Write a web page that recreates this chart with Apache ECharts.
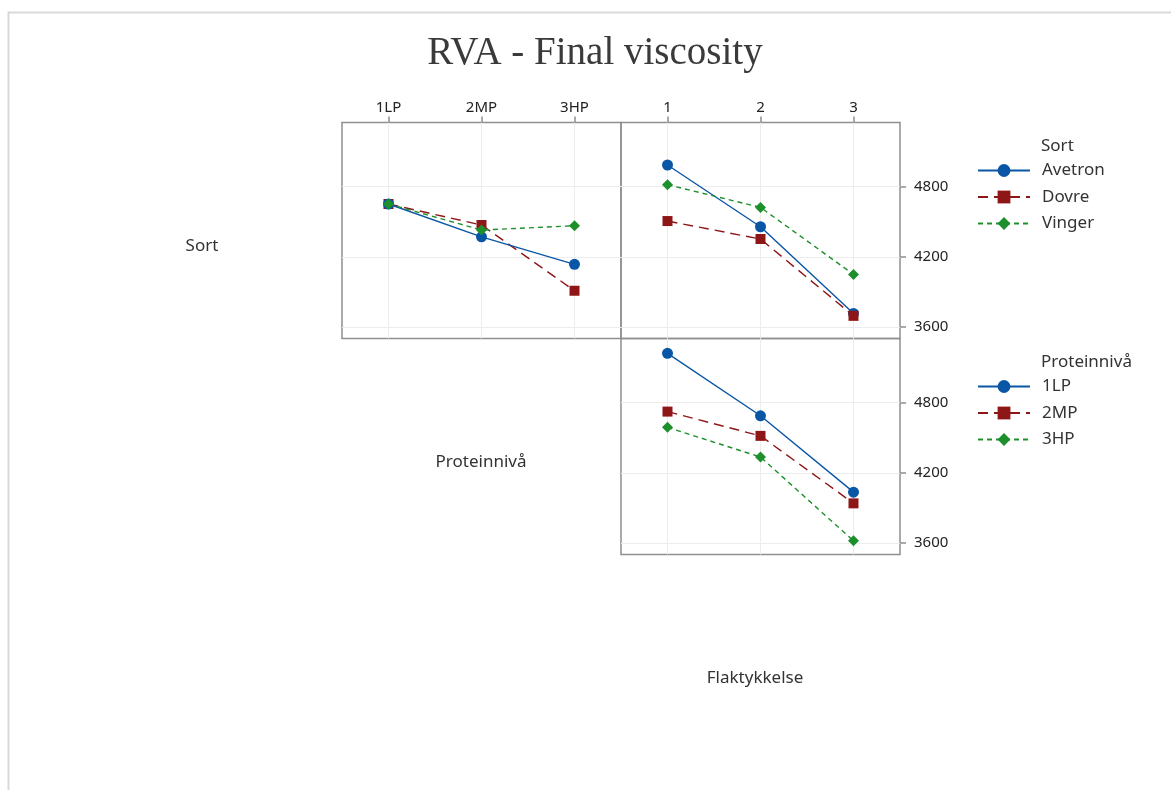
<!DOCTYPE html>
<html>
<head>
<meta charset="utf-8">
<script src="https://cdn.jsdelivr.net/npm/echarts@6/dist/echarts.min.js"></script>
<style>
  html, body { margin: 0; padding: 0; background: #fff; }
  #chart { width: 1171px; height: 790px; }
</style>
</head>
<body>
<div id="chart"></div>
<script>
// Factor levels and tick values
const proteinLevels = ['1LP', '2MP', '3HP'];
const flakeThickness = ['1', '2', '3'];
const varieties = ['Avetron', 'Dovre', 'Vinger'];
const yTicks = [3600, 4200, 4800];

// Mean final viscosity: variety x protein level
const avetronByProtein = [4652, 4371, 4135];
const dovreByProtein = [4652, 4472, 3909];
const vingerByProtein = [4652, 4429, 4466];

// Mean final viscosity: variety x flake thickness
const avetronByThickness = [4986, 4457, 3715];
const dovreByThickness = [4506, 4352, 3694];
const vingerByThickness = [4817, 4623, 4049];

// Mean final viscosity: protein level x flake thickness
const lpByThickness = [5223, 4688, 4034];
const mpByThickness = [4724, 4516, 3938];
const hpByThickness = [4589, 4335, 3617];

const SANS = 'Noto Sans';
const Y_MIN = 3500, Y_MAX = 5350;
const frameColor = '#8f8f8f';
const gridColor = '#ececec';

// One look per level: solid/circle, long dash/square, short dash/diamond
const looks = [
  { color: '#0a56a6', symbol: 'circle', symbolSize: 11, type: 'solid' },
  { color: '#8e1616', symbol: 'rect', symbolSize: 10, type: [10, 6] },
  { color: '#1d8f2b', symbol: 'diamond', symbolSize: 11, type: [5, 4] }
];

function lineSeries(name, data, look, gridIndex, z) {
  return {
    type: 'line', name: name, data: data,
    xAxisIndex: gridIndex, yAxisIndex: gridIndex,
    symbol: look.symbol, symbolSize: look.symbolSize,
    showAllSymbol: true, z: z, animation: false,
    itemStyle: { color: look.color, borderWidth: 0 },
    lineStyle: { color: look.color, width: 1.4, type: look.type }
  };
}

function xAxis(gridIndex, labels, showLabels) {
  return {
    type: 'category', gridIndex: gridIndex, data: labels, position: 'top',
    boundaryGap: true,
    axisLine: { show: false },
    axisTick: { show: showLabels, alignWithLabel: true, length: 6,
      lineStyle: { color: frameColor, width: 1.5 } },
    axisLabel: { show: showLabels, margin: 7, fontSize: 15, color: '#222',
      fontFamily: SANS },
    splitLine: { show: true, alignWithLabel: true,
      lineStyle: { color: gridColor, width: 1 } }
  };
}

function yAxis(gridIndex, showLabels) {
  return {
    type: 'value', gridIndex: gridIndex, min: Y_MIN, max: Y_MAX, position: 'right',
    axisLine: { show: false },
    axisTick: { show: showLabels, length: 6, customValues: yTicks,
      lineStyle: { color: frameColor, width: 1.5 } },
    axisLabel: { show: showLabels, customValues: yTicks, margin: 14, fontSize: 15,
      color: '#222', fontFamily: SANS, formatter: (v) => String(v) },
    splitLine: { show: true, lineStyle: { color: gridColor, width: 1 } }
  };
}

const panel = { show: true, borderColor: frameColor, borderWidth: 1.5,
  backgroundColor: 'transparent' };

const legendCommon = {
  orient: 'vertical', left: 977, itemWidth: 52, itemHeight: 16, itemGap: 9.5,
  padding: 0, selectedMode: false,
  textStyle: { fontFamily: SANS, fontSize: 17, color: '#333', padding: [0, 0, 0, 7] }
};

const chart = echarts.init(document.getElementById('chart'), null, { renderer: 'canvas' });

chart.setOption({
  backgroundColor: '#fff',
  animation: false,
  grid: [
    Object.assign({ left: 342, top: 122.5, width: 279, height: 216 }, panel),
    Object.assign({ left: 621, top: 122.5, width: 279, height: 216 }, panel),
    Object.assign({ left: 621, top: 338.5, width: 279, height: 216 }, panel)
  ],
  xAxis: [
    xAxis(0, proteinLevels, true),
    xAxis(1, flakeThickness, true),
    xAxis(2, flakeThickness, false)
  ],
  yAxis: [
    yAxis(0, false),
    yAxis(1, true),
    yAxis(2, true)
  ],
  legend: [
    Object.assign({ top: 162, data: varieties }, legendCommon),
    Object.assign({ top: 378, data: proteinLevels }, legendCommon)
  ],
  series: [
    lineSeries(varieties[1], dovreByProtein, looks[1], 0, 2),
    lineSeries(varieties[0], avetronByProtein, looks[0], 0, 3),
    lineSeries(varieties[2], vingerByProtein, looks[2], 0, 4),

    lineSeries(varieties[0], avetronByThickness, looks[0], 1, 2),
    lineSeries(varieties[1], dovreByThickness, looks[1], 1, 3),
    lineSeries(varieties[2], vingerByThickness, looks[2], 1, 4),

    lineSeries(proteinLevels[0], lpByThickness, looks[0], 2, 2),
    lineSeries(proteinLevels[1], mpByThickness, looks[1], 2, 3),
    lineSeries(proteinLevels[2], hpByThickness, looks[2], 2, 4)
  ],
  graphic: [
    { type: 'rect', silent: true, z: -1,
      shape: { x: 8.5, y: 12.5, width: 1300, height: 900 },
      style: { fill: 'none', stroke: '#d9d9d9', lineWidth: 2 } },
    { type: 'text', x: 595, y: 54, silent: true,
      style: { text: 'RVA - Final viscosity', font: '39px "Liberation Serif"',
        fill: '#3a3a3a', textAlign: 'center', textVerticalAlign: 'middle' } },
    { type: 'text', x: 1041, y: 146, silent: true,
      style: { text: 'Sort', font: '17px "Noto Sans"', fill: '#333',
        textAlign: 'left', textVerticalAlign: 'middle' } },
    { type: 'text', x: 1041, y: 362, silent: true,
      style: { text: 'Proteinnivå', font: '17px "Noto Sans"', fill: '#333',
        textAlign: 'left', textVerticalAlign: 'middle' } },
    { type: 'text', x: 202, y: 246, silent: true,
      style: { text: 'Sort', font: '17px "Noto Sans"', fill: '#333',
        textAlign: 'center', textVerticalAlign: 'middle' } },
    { type: 'text', x: 481, y: 462, silent: true,
      style: { text: 'Proteinnivå', font: '17px "Noto Sans"', fill: '#333',
        textAlign: 'center', textVerticalAlign: 'middle' } },
    { type: 'text', x: 755, y: 678, silent: true,
      style: { text: 'Flaktykkelse', font: '17px "Noto Sans"', fill: '#333',
        textAlign: 'center', textVerticalAlign: 'middle' } }
  ]
});
</script>
</body>
</html>
